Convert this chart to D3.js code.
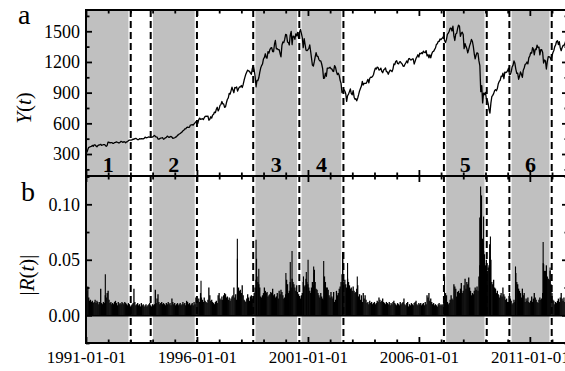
<!DOCTYPE html>
<html><head><meta charset="utf-8">
<script src="https://cdn.jsdelivr.net/npm/d3@7"></script>
<style>
body{margin:0;background:#fff}
svg text{font-family:"Liberation Serif","Times New Roman",serif !important;fill:#000}
</style>
</head><body>
<svg id="c" width="565" height="371"></svg>
<script>
// ---- data (semi-monthly samples: mid-month and month-end, Jan 1991 .. Oct 2012) ----
const startYear = 1991;
const yValues = [
315,343,365,367,373,375,385,375,389,390,378,371,382,388,390,395,385,388,391,392,385,375,384,417,
415,409,412,412,405,404,412,414,418,415,410,408,415,424,420,414,420,418,410,419,422,431,435,436,
437,439,447,443,451,452,448,440,440,450,447,451,449,448,452,464,461,459,464,468,464,462,464,466,
473,482,472,467,466,446,446,451,456,457,459,444,450,458,462,475,468,463,468,472,465,454,455,459,
465,470,482,487,495,501,508,515,527,533,545,545,558,562,560,562,583,584,587,582,594,605,616,616,
600,636,651,640,641,645,636,654,668,669,668,671,631,640,664,652,681,687,710,705,738,757,721,741,
775,786,813,791,790,757,760,801,833,848,893,885,917,954,925,899,950,947,955,915,938,955,955,970,
950,980,1021,1049,1080,1102,1120,1112,1108,1091,1080,1134,1165,1121,1060,957,1020,1017,1045,1099,1140,1164,1180,1229,
1245,1280,1240,1238,1300,1286,1320,1335,1340,1302,1300,1373,1410,1329,1330,1320,1320,1283,1250,1363,1395,1389,1420,1469,
1465,1394,1390,1366,1460,1499,1370,1452,1450,1421,1475,1455,1490,1431,1490,1518,1480,1437,1340,1429,1370,1315,1310,1320,
1330,1366,1300,1240,1170,1160,1200,1249,1290,1256,1255,1224,1210,1211,1180,1134,1040,1041,1090,1060,1140,1139,1140,1148,
1135,1130,1110,1107,1165,1147,1105,1076,1090,1067,1020,990,900,912,930,916,890,815,870,886,910,936,890,880,
920,856,835,841,820,848,880,917,940,964,1010,975,990,990,990,1008,1030,996,1040,1051,1050,1058,1075,1112,
1140,1131,1150,1145,1120,1126,1140,1107,1095,1121,1130,1141,1105,1102,1080,1104,1120,1115,1105,1130,1180,1174,1205,1212,
1185,1181,1200,1204,1190,1181,1160,1157,1175,1192,1210,1191,1230,1234,1220,1220,1230,1229,1180,1207,1235,1249,1270,1248,
1285,1280,1290,1281,1305,1295,1290,1311,1260,1270,1240,1270,1240,1277,1300,1304,1320,1336,1370,1378,1400,1401,1425,1418,
1430,1438,1455,1407,1390,1421,1470,1482,1500,1531,1530,1503,1550,1455,1410,1474,1480,1527,1560,1549,1450,1481,1490,1468,
1330,1379,1350,1331,1290,1323,1360,1386,1420,1400,1350,1280,1230,1267,1290,1283,1210,1165,910,969,800,896,880,903,
840,826,790,735,700,798,860,873,890,919,930,919,940,987,1010,1021,1060,1057,1090,1036,1100,1096,1100,1115,
1140,1074,1080,1104,1150,1169,1210,1187,1130,1089,1090,1031,1060,1102,1080,1049,1120,1141,1175,1183,1200,1181,1240,1258,
1290,1286,1340,1327,1270,1326,1320,1364,1340,1345,1270,1321,1320,1292,1190,1219,1210,1131,1200,1253,1250,1247,1220,1258,
1290,1312,1350,1366,1400,1408,1370,1398,1340,1310,1340,1362,1360,1379,1410,1407,1460,1441,1430,1412
];
const rValues = [
.022,.026,.016,.013,.014,.012,.013,.011,.012,.014,.011,.013,.012,.010,.012,.024,.011,.010,.012,.011,.018,.016,.020,.022,
.014,.011,.012,.010,.011,.010,.012,.013,.011,.009,.012,.010,.011,.010,.012,.011,.010,.012,.011,.010,.009,.011,.010,.008,
.009,.010,.011,.024,.012,.009,.010,.011,.009,.010,.008,.011,.009,.010,.008,.009,.010,.008,.009,.010,.011,.009,.008,.010,
.009,.010,.023,.011,.015,.019,.012,.010,.011,.012,.010,.011,.010,.009,.011,.010,.012,.010,.011,.009,.015,.012,.010,.011,
.009,.010,.011,.009,.010,.011,.009,.010,.012,.010,.011,.009,.013,.012,.010,.011,.009,.010,.011,.009,.012,.010,.016,.014,
.013,.015,.012,.020,.016,.014,.012,.016,.013,.012,.011,.014,.025,.018,.013,.014,.012,.011,.010,.012,.013,.011,.018,.020,
.015,.014,.017,.014,.018,.020,.019,.016,.017,.014,.016,.013,.015,.017,.018,.025,.016,.019,.014,.020,.025,.022,.023,.020,
.027,.018,.014,.013,.012,.015,.019,.016,.013,.017,.018,.015,.014,.020,.025,.032,.035,.030,.028,.025,.017,.016,.018,.020,
.025,.022,.020,.021,.017,.018,.019,.021,.020,.024,.018,.019,.016,.017,.020,.015,.022,.019,.023,.021,.018,.015,.016,.019,
.032,.028,.020,.022,.030,.025,.033,.030,.028,.025,.022,.027,.021,.019,.016,.015,.018,.020,.030,.026,.027,.033,.030,.028,
.025,.022,.020,.025,.030,.027,.038,.030,.024,.023,.020,.018,.016,.020,.017,.015,.014,.035,.030,.025,.025,.023,.018,.016,
.021,.017,.015,.021,.012,.014,.022,.018,.020,.024,.026,.030,.037,.035,.030,.032,.028,.025,.033,.030,.027,.024,.025,.022,
.026,.022,.020,.021,.024,.027,.017,.019,.014,.018,.012,.020,.015,.018,.014,.011,.012,.010,.013,.011,.012,.010,.011,.012,
.010,.011,.013,.012,.016,.014,.012,.013,.015,.012,.011,.010,.012,.011,.010,.012,.009,.011,.010,.012,.013,.011,.010,.009,
.011,.010,.009,.012,.010,.011,.012,.015,.010,.009,.011,.012,.008,.010,.009,.011,.010,.009,.011,.012,.013,.010,.009,.011,
.010,.011,.009,.010,.011,.009,.012,.010,.018,.016,.020,.013,.015,.012,.010,.011,.009,.010,.009,.008,.010,.011,.009,.010,
.009,.010,.011,.016,.020,.018,.012,.010,.011,.014,.018,.015,.014,.028,.026,.024,.017,.021,.022,.020,.024,.029,.020,.022,
.027,.033,.024,.030,.028,.034,.025,.022,.018,.020,.019,.022,.025,.023,.026,.022,.035,.045,.055,.060,.062,.058,.055,.045,
.050,.040,.043,.045,.053,.050,.030,.028,.032,.025,.024,.020,.022,.019,.016,.018,.020,.017,.025,.019,.017,.014,.015,.012,
.012,.020,.015,.013,.010,.011,.014,.012,.038,.030,.028,.024,.022,.020,.016,.024,.018,.020,.012,.015,.013,.016,.012,.011,
.013,.017,.012,.015,.020,.016,.014,.012,.011,.014,.016,.014,.015,.020,.046,.040,.040,.045,.035,.033,.032,.040,.028,.020,
.014,.013,.010,.012,.011,.013,.015,.012,.016,.020,.015,.013,.016,.012,.010,.011,.012,.014,.011,.013
];
// individual large daily moves
const spikeDates = ["1991-11-15","1996-03-08","1997-10-27","1997-10-28","1998-08-31","1998-09-08","1998-10-15",
 "2000-01-04","2000-03-16","2000-04-14","2000-10-19","2000-12-05","2001-01-03","2001-04-05","2001-04-18","2001-09-17",
 "2002-07-24","2002-07-29","2002-10-15","2003-03-24","2007-02-27","2008-09-29","2008-10-13","2008-10-15","2008-10-28",
 "2008-11-13","2008-11-20","2008-11-24","2008-12-01","2009-03-10","2009-03-23","2010-05-10","2011-08-08","2011-08-09","2011-11-30"];
const spikeValues = [.037,.031,.069,.051,.068,.051,.042,
 .038,.048,.058,.035,.039,.050,.044,.041,.049,
 .057,.054,.047,.035,.035,.088,.116,.090,.108,
 .069,.067,.065,.089,.064,.071,.044,.066,.047,.043];
const regionStarts = ["1990-12-01","1993-12-01","1998-07-15","2000-08-12","2007-02-17","2010-01-29"];
const regionEnds   = ["1993-01-06","1996-01-01","2000-08-12","2002-08-08","2009-01-22","2011-12-27"];
const regionLabels = ["1","2","3","4","5","6"];
const yTicksA = [300,600,900,1200,1500];
const yMinorA = [150,450,750,1050,1350,1650];
const yTicksB = [0,0.05,0.10];
const yMinorB = [-0.025,0.025,0.075,0.125];
const xTickLabels = ["1991-01-01","1996-01-01","2001-01-01","2006-01-01","2011-01-01"];

// ---- layout ----
const L=86, R=568, topA=10, botA=176, topB=176, botB=343;
const FONT = "'Liberation Serif','Times New Roman',serif";
const parse = d3.timeParse("%Y-%m-%d");
function sampleDate(i){
  const y = startYear + Math.floor(i/24), m = Math.floor((i%24)/2);
  return i%2===0 ? new Date(y,m,15) : new Date(y,m+1,0);
}
const x = d3.scaleTime().domain([new Date(1991,0,1), new Date(2012,8,20)]).range([L,R]);
const yA = d3.scaleLinear().domain([85,1708]).range([botA,topA]);
const yB = d3.scaleLinear().domain([-0.025,0.1255]).range([botB,topB]);

const svg = d3.select("#c");
const defs = svg.append("defs");
defs.append("clipPath").attr("id","cAll").append("rect").attr("x",L).attr("y",topA).attr("width",R-L).attr("height",botB-topA);
defs.append("clipPath").attr("id","cA").append("rect").attr("x",L).attr("y",topA).attr("width",R-L).attr("height",botA-topA);
defs.append("clipPath").attr("id","cB").append("rect").attr("x",L).attr("y",topB).attr("width",R-L).attr("height",botB-topB);

const regions = regionStarts.map((s,i)=>({s:parse(s),e:parse(regionEnds[i]),label:regionLabels[i]}));
const gReg = svg.append("g").attr("clip-path","url(#cAll)");
gReg.selectAll("rect").data(regions).join("rect")
  .attr("x",d=>x(d.s)).attr("width",d=>x(d.e)-x(d.s))
  .attr("y",topA).attr("height",botB-topA).attr("fill","#c0c0c0");

// boundaries
const bounds = [];
regions.forEach(r=>{bounds.push(r.s);bounds.push(r.e);});
const bset = Array.from(new Set(bounds.map(d=>+d))).map(d=>new Date(d)).filter(d=>x(d)>L+2);
gReg.selectAll("line.w").data(bset).join("line").attr("class","w")
  .attr("x1",d=>x(d)).attr("x2",d=>x(d)).attr("y1",topA).attr("y2",botB)
  .attr("stroke","#fff").attr("stroke-width",4.5);

// price line
const ySeries = yValues.map((v,i)=>({date:sampleDate(i),v}));
svg.append("path").datum(ySeries).attr("clip-path","url(#cA)")
  .attr("d",d3.line().x(d=>x(d.date)).y(d=>yA(d.v)))
  .attr("fill","none").attr("stroke","#000").attr("stroke-width",1.3).attr("stroke-linejoin","round");

// |R| stems
const rSeries = rValues.map((v,i)=>({date:sampleDate(i),v}));
const spikes = spikeDates.map((d,i)=>({date:parse(d),v:spikeValues[i]}));
const gR = svg.append("g").attr("clip-path","url(#cB)");
gR.selectAll("line.r").data(rSeries).join("line").attr("class","r")
  .attr("x1",d=>x(d.date)).attr("x2",d=>x(d.date)).attr("y1",yB(0)).attr("y2",d=>yB(d.v))
  .attr("stroke","#000").attr("stroke-width",1.3);
gR.selectAll("line.s").data(spikes).join("line").attr("class","s")
  .attr("x1",d=>x(d.date)).attr("x2",d=>x(d.date)).attr("y1",yB(0)).attr("y2",d=>yB(d.v))
  .attr("stroke","#000").attr("stroke-width",1.1);
gR.append("line").attr("x1",L).attr("x2",R).attr("y1",yB(0)+0.5).attr("y2",yB(0)+0.5).attr("stroke","#000").attr("stroke-width",1.5);

// dashed boundaries
svg.append("g").selectAll("line").data(bset).join("line")
  .attr("x1",d=>x(d)).attr("x2",d=>x(d)).attr("y1",topA).attr("y2",botB)
  .attr("stroke","#000").attr("stroke-width",2).attr("stroke-dasharray","7,4");

// region labels
svg.append("g").selectAll("text").data(regions).join("text")
  .attr("x",d=>(x(Math.max(+d.s,+x.domain()[0]))+x(d.e))/2).attr("y",172)
  .attr("text-anchor","middle").attr("font-size",22).attr("font-weight","bold").text(d=>d.label);

// ---- axes ----
const yearTicks = d3.timeYear.range(new Date(1991,0,1), new Date(2013,0,1));
const majorX = xTickLabels.map(parse);
const minorX = yearTicks.filter(d=>!majorX.some(m=>+m===+d));
function styleAxis(g, fs){ g.attr("font-family",FONT).attr("font-size",fs||17);
  g.select(".domain").remove(); g.selectAll(".tick line").attr("stroke","#000").attr("stroke-width",1.8); }
function addAxis(axis, tx, ty, fs){ svg.append("g").attr("transform",`translate(${tx},${ty})`).call(axis).call(g=>styleAxis(g,fs)); }
// x axes (all inner)
[[d3.axisTop, topA],[d3.axisBottom, botA],[d3.axisTop, topB]].forEach(([f,yy])=>{
  addAxis(f(x).tickValues(majorX).tickSize(-6).tickFormat(""),0,yy);
  addAxis(f(x).tickValues(minorX).tickSize(-3.5).tickFormat(""),0,yy);
});
addAxis(d3.axisBottom(x).tickValues(majorX).tickSize(-6).tickPadding(8).tickFormat(d3.timeFormat("%Y-%m-%d")),0,botB,17);
addAxis(d3.axisBottom(x).tickValues(minorX).tickSize(-3.5).tickFormat(""),0,botB);
// y axes
addAxis(d3.axisLeft(yA).tickValues(yTicksA).tickSize(-6).tickPadding(6).tickFormat(d3.format("d")),L,0,18);
addAxis(d3.axisLeft(yA).tickValues(yMinorA).tickSize(-3.5).tickFormat(""),L,0);
addAxis(d3.axisRight(yA).tickValues(yTicksA).tickSize(-6).tickFormat(""),R,0);
addAxis(d3.axisRight(yA).tickValues(yMinorA).tickSize(-3.5).tickFormat(""),R,0);
addAxis(d3.axisLeft(yB).tickValues(yTicksB).tickSize(-6).tickPadding(6).tickFormat(d3.format(".2f")),L,0,18);
addAxis(d3.axisLeft(yB).tickValues(yMinorB).tickSize(-3.5).tickFormat(""),L,0);
addAxis(d3.axisRight(yB).tickValues(yTicksB).tickSize(-6).tickFormat(""),R,0);
addAxis(d3.axisRight(yB).tickValues(yMinorB).tickSize(-3.5).tickFormat(""),R,0);

// frames
svg.append("rect").attr("x",L).attr("y",topA).attr("width",R-L).attr("height",botA-topA).attr("fill","none").attr("stroke","#000").attr("stroke-width",2);
svg.append("rect").attr("x",L).attr("y",topB).attr("width",R-L).attr("height",botB-topB).attr("fill","none").attr("stroke","#000").attr("stroke-width",2);

// titles
svg.append("text").attr("x",18).attr("y",24).attr("font-size",28).text("a");
svg.append("text").attr("x",21).attr("y",201).attr("font-size",28).text("b");
const t1 = svg.append("text").attr("transform","translate(31,108) rotate(-90)").attr("text-anchor","middle").attr("font-size",21);
t1.append("tspan").attr("font-style","italic").text("Y");
t1.append("tspan").text("(");
t1.append("tspan").attr("font-style","italic").text("t");
t1.append("tspan").text(")");
const t2 = svg.append("text").attr("transform","translate(34,275) rotate(-90)").attr("text-anchor","middle").attr("font-size",21);
t2.append("tspan").text("|");
t2.append("tspan").attr("font-style","italic").text("R");
t2.append("tspan").text("(");
t2.append("tspan").attr("font-style","italic").text("t");
t2.append("tspan").text(")|");
</script>
</body></html>
